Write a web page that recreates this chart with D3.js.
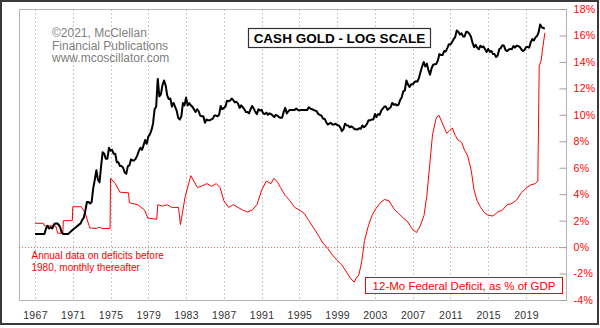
<!DOCTYPE html>
<html>
<head>
<meta charset="utf-8">
<script src="https://cdn.jsdelivr.net/npm/d3@7"></script>
<style>
  html, body { margin: 0; padding: 0; background: #fff; }
  svg { display: block; font-family: "Liberation Sans", Arial, sans-serif; }
</style>
</head>
<body>
<svg id="chart" width="600" height="328"></svg>
<script>
// ---------------- DATA ----------------
const yearTicks = [1967, 1971, 1975, 1979, 1983, 1987, 1991, 1995, 1999, 2003, 2007, 2011, 2015, 2019];
const pctTicks = [-4, -2, 0, 2, 4, 6, 8, 10, 12, 14, 16, 18];

// Gold price, bi-monthly samples (Jan, Mar, May, Jul, Sep, Nov) starting 1967
const goldStartYear = 1967;
const goldStep = 1 / 6;
const goldValues = [
  35,35,35,35,35,35,          // 1967
  35,39,41,39,40,39,          // 1968
  42,43,43,42,40,36,          // 1969
  35,35,35,35,36,37,          // 1970
  38,39,40,41,42,43,          // 1971
  46,48,55,65,65,63,          // 1972
  65,85,100,120,100,95,       // 1973
  130,170,165,150,150,185,    // 1974
  175,178,165,165,140,140,    // 1975
  130,130,126,115,112,130,    // 1976
  132,148,145,145,150,160,    // 1977
  175,185,178,195,215,200,    // 1978
  230,240,260,295,390,410,    // 1979
  700,500,520,620,680,620,    // 1980
  510,475,480,410,440,410,    // 1981
  380,330,320,340,440,420,    // 1982
  490,420,440,420,410,390,    // 1983
  370,390,375,345,340,340,    // 1984
  300,320,315,315,320,325,    // 1985
  345,345,340,350,415,390,    // 1986
  400,410,460,455,460,480,    // 1987
  465,445,450,435,400,420,    // 1988
  405,390,370,370,360,390,    // 1989
  415,395,370,355,390,380,    // 1990
  385,360,355,365,350,360,    // 1991
  355,345,335,350,345,335,    // 1992
  330,330,370,400,360,375,    // 1993
  385,385,385,385,395,385,    // 1994
  380,385,385,385,385,385,    // 1995
  405,395,390,385,380,375,    // 1996
  355,350,345,325,325,305,    // 1997
  290,295,300,290,290,295,    // 1998
  287,285,275,255,265,295,    // 1999
  285,285,275,280,275,265,    // 2000
  265,263,270,267,285,275,    // 2001
  282,295,315,315,320,320,    // 2002
  355,335,355,350,380,395,    // 2003
  410,410,385,395,405,440,    // 2004
  425,430,420,425,465,490,    // 2005
  550,560,680,630,600,630,    // 2006
  630,655,670,665,715,805,    // 2007
  890,970,890,940,830,760,    // 2008
  860,920,930,935,1000,1130,  // 2009
  1110,1110,1200,1190,1270,1370, // 2010
  1360,1420,1510,1570,1780,1740, // 2011
  1650,1690,1590,1590,1740,1730, // 2012
  1670,1590,1410,1290,1350,1280, // 2013
  1240,1330,1290,1310,1240,1180, // 2014
  1250,1180,1200,1130,1130,1070, // 2015
  1100,1240,1270,1340,1330,1220, // 2016
  1200,1230,1250,1240,1320,1280, // 2017
  1330,1320,1300,1240,1200,1220, // 2018
  1290,1300,1280,1420,1510,1470, // 2019
  1560,1600,1720,2000,1900,1870, // 2020
  1850                           // 2021
];

// 12-month federal deficit as % of GDP
const deficitYears = [
  1967.0,1967.9,1968.0,1969.2,1969.4,1969.95,1970.0,1970.95,1971.0,1971.9,
  1972.3,1972.8,1973.5,1973.8,1974.2,1974.95,1975.0,1975.5,1976.0,1976.9,
  1977.0,1977.9,1978.6,1978.95,1979.9,1980.0,1980.5,1981.0,1981.5,1982.2,
  1982.4,1982.9,1983.5,1984.2,1984.6,1985.2,1985.7,1986.2,1986.6,1987.0,
  1987.5,1988.0,1988.5,1989.0,1989.5,1990.0,1990.5,1991.0,1991.5,1992.0,
  1992.3,1992.7,1993.0,1993.5,1994.0,1994.5,1995.0,1995.5,1996.0,1996.5,
  1997.0,1997.5,1998.0,1998.5,1999.0,1999.5,2000.0,2000.4,2000.8,2001.0,
  2001.3,2001.6,2001.9,2002.3,2002.7,2003.0,2003.5,2004.0,2004.5,2005.0,
  2005.5,2006.0,2006.5,2007.0,2007.4,2007.8,2008.2,2008.5,2008.8,2009.1,
  2009.5,2009.8,2010.0,2010.3,2010.6,2010.9,2011.2,2011.5,2011.8,2012.2,
  2012.5,2012.8,2013.2,2013.5,2013.8,2014.2,2014.6,2015.0,2015.5,2016.0,
  2016.5,2017.0,2017.5,2018.0,2018.5,2019.0,2019.5,2020.0,2020.25,2020.4,
  2020.6,2020.8,2021.0
];
const deficitValues = [
  1.8,1.8,1.6,1.6,1.05,1.05,2.0,2.0,3.05,3.05,
  2.6,1.45,1.4,1.5,1.4,1.4,5.2,4.8,4.15,4.1,
  3.35,3.2,2.8,2.2,2.1,3.2,3.1,3.2,3.0,3.0,
  1.7,3.8,5.4,4.5,4.6,4.8,4.6,4.8,4.5,3.5,
  3.0,3.2,3.0,2.8,2.65,2.8,3.2,4.3,5.0,4.8,
  5.2,4.9,4.5,3.9,3.5,3.0,2.8,2.55,2.0,1.45,
  0.9,0.3,-0.1,-0.6,-1.0,-1.35,-1.9,-2.35,-2.65,-2.35,
  -2.1,-1.1,0.5,1.6,2.4,2.8,3.3,3.6,3.5,2.9,
  2.55,2.2,1.9,1.3,1.1,1.6,2.4,3.9,6.2,8.5,
  9.8,9.95,9.6,9.1,8.6,8.8,9.0,8.45,8.1,7.9,
  7.3,6.95,5.8,4.3,3.55,3.0,2.6,2.4,2.35,2.65,
  2.8,3.2,3.3,3.55,4.1,4.45,4.7,4.8,5.0,13.7,
  14.1,15.2,16.2
];

const titleText = "CASH GOLD - LOG SCALE";
const creditLines = ["\u00A92021, McClellan", "Financial Publications", "www.mcoscillator.com"];
const noteLines = ["Annual data on deficits before", "1980, monthly thereafter"];
const legendText = "12-Mo Federal Deficit, as % of GDP";

// ---------------- LAYOUT ----------------
const svg = d3.select("#chart");
const plot = { left: 19, right: 566, top: 9, bottom: 300 };
const RED = "#ff0000";

const x = d3.scaleLinear().domain([1967, 2019]).range([35, 526]);
const yPct = d3.scaleLinear().domain([-4, 18]).range([plot.bottom, plot.top]);
const yGold = d3.scaleLog().domain([9.8, 2700]).range([plot.bottom, plot.top]);

// outer frame
svg.append("rect").attr("x", 0).attr("y", 0).attr("width", 600).attr("height", 328).attr("fill", "#fff");
svg.append("rect").attr("x", 1).attr("y", 1).attr("width", 597).attr("height", 323)
  .attr("fill", "none").attr("stroke", "#3a3a3a").attr("stroke-width", 2);

// vertical dashed grid lines
svg.append("g").selectAll("line").data(yearTicks).join("line")
  .attr("x1", d => Math.round(x(d)) + 0.5).attr("x2", d => Math.round(x(d)) + 0.5)
  .attr("y1", plot.top).attr("y2", plot.bottom)
  .attr("stroke", "#c8c8c8").attr("stroke-width", 1).attr("stroke-dasharray", "2,2");

// plot border
svg.append("rect").attr("x", plot.left + 0.5).attr("y", plot.top + 0.5)
  .attr("width", plot.right - plot.left).attr("height", plot.bottom - plot.top)
  .attr("fill", "none").attr("stroke", "#b4b4b4").attr("stroke-width", 1);

// zero line (dotted red)
svg.append("line")
  .attr("x1", plot.left).attr("x2", plot.right)
  .attr("y1", Math.round(yPct(0)) + 0.5).attr("y2", Math.round(yPct(0)) + 0.5)
  .attr("stroke", "#ff6060").attr("stroke-width", 1).attr("stroke-dasharray", "1,2");

// bottom axis
const xAxis = d3.axisBottom(x).tickValues(yearTicks).tickFormat(d3.format("d")).tickSize(0).tickPadding(11.5);
const gx = svg.append("g").attr("transform", `translate(0,${plot.bottom})`).call(xAxis);
gx.select(".domain").remove();
gx.selectAll("text").attr("fill", "#333").attr("font-size", "10.5px")
  .attr("font-family", "'Liberation Sans', Arial, sans-serif").attr("letter-spacing", "0.3px");

// right axis
const yAxis = d3.axisRight(yPct).tickValues(pctTicks).tickFormat(d => d + "%").tickSize(-7).tickPadding(7);
const gy = svg.append("g").attr("transform", `translate(${plot.right + 0.5},0)`).call(yAxis);
gy.select(".domain").remove();
gy.selectAll(".tick line").attr("stroke", "#a0a0a0");
gy.selectAll("text").attr("fill", RED).attr("font-size", "10.5px")
  .attr("font-family", "'Liberation Sans', Arial, sans-serif").attr("letter-spacing", "0.3px");

// deficit line
const deficitData = deficitYears.map((yr, i) => [yr, deficitValues[i]]);
svg.append("path").datum(deficitData)
  .attr("fill", "none").attr("stroke", RED).attr("stroke-width", 1)
  .attr("d", d3.line().x(d => x(d[0])).y(d => yPct(d[1])));

// gold line
const goldData = goldValues.map((v, i) => [goldStartYear + i * goldStep, v]);
svg.append("path").datum(goldData)
  .attr("fill", "none").attr("stroke", "#000").attr("stroke-width", 2).attr("stroke-linejoin", "round")
  .attr("d", d3.line().x(d => x(d[0])).y(d => yGold(d[1])));

// credit text
svg.append("g").selectAll("text").data(creditLines).join("text")
  .attr("x", 52).attr("y", (d, i) => 37 + i * 12.5)
  .attr("fill", "#808080").attr("font-size", "12px").text(d => d);

// title box
const tb = svg.append("g");
tb.append("rect").attr("x", 248.5).attr("y", 28.5).attr("width", 182).attr("height", 19)
  .attr("fill", "#fff").attr("stroke", "#333").attr("stroke-width", 1.2);
tb.append("text").attr("x", 339.5).attr("y", 42.5).attr("text-anchor", "middle")
  .attr("font-weight", "bold").attr("font-size", "13.5px").attr("fill", "#000").text(titleText);

// note text
svg.append("g").selectAll("text").data(noteLines).join("text")
  .attr("x", 31.5).attr("y", (d, i) => 258.5 + i * 12)
  .attr("fill", RED).attr("font-size", "10px").text(d => d);

// legend box
const lg = svg.append("g");
lg.append("rect").attr("x", 365.5).attr("y", 277.5).attr("width", 197).attr("height", 16)
  .attr("fill", "#fff").attr("stroke", RED).attr("stroke-width", 1);
lg.append("text").attr("x", 464).attr("y", 290).attr("text-anchor", "middle")
  .attr("font-size", "11.5px").attr("fill", RED).text(legendText);
</script>
</body>
</html>
